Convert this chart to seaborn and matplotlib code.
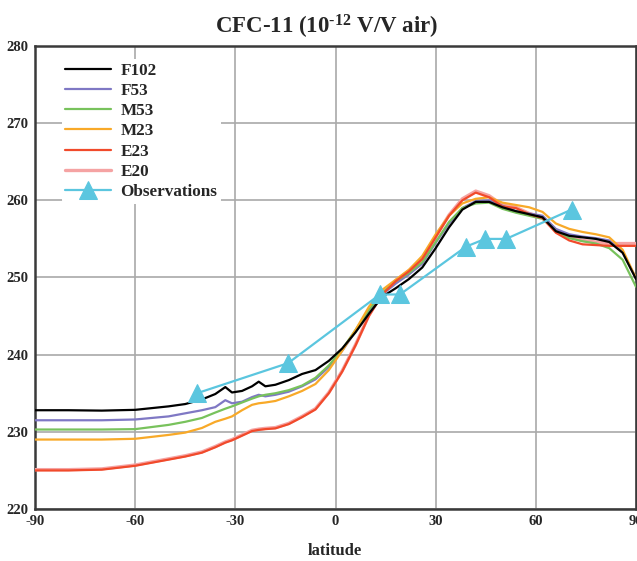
import matplotlib
matplotlib.use("Agg")
import matplotlib.pyplot as plt
import seaborn as sns
import numpy as np

# ---- data ----
lat = [-90, -80, -70, -60, -50, -45, -40, -36, -33, -31, -28, -25, -23, -21, -18,
       -14, -10, -6, -2, 2, 6, 10, 14, 18, 22, 26, 30, 34, 38, 42, 46, 50, 54,
       58, 62, 66, 70, 74, 78, 82, 86, 90]

f102 = [232.8, 232.8, 232.75, 232.85, 233.3, 233.6, 234.2, 234.9, 235.8, 235.1, 235.3,
        235.9, 236.5, 235.9, 236.1, 236.7, 237.5, 238.0, 239.2, 240.8, 242.9, 245.3,
        247.5, 248.6, 249.8, 251.3, 253.8, 256.5, 258.8, 259.8, 259.8, 259.1, 258.6,
        258.2, 257.8, 256.0, 255.4, 255.2, 255.0, 254.6, 253.2, 249.8]
f53 = [231.5, 231.5, 231.5, 231.6, 232.0, 232.4, 232.8, 233.2, 234.1, 233.7, 233.9,
       234.5, 234.8, 234.6, 234.8, 235.2, 235.9, 236.8, 238.4, 240.5, 243.0, 245.5,
       247.8, 249.2, 250.4, 251.8, 254.5, 257.0, 259.0, 259.9, 260.0, 259.3, 258.6,
       258.3, 258.0, 256.3, 255.6, 255.3, 255.1, 254.8, 253.3, 249.9]
m53 = [230.3, 230.3, 230.3, 230.35, 230.9, 231.3, 231.8, 232.5, 233.0, 233.3, 233.8,
       234.3, 234.6, 234.8, 235.0, 235.4, 236.0, 237.0, 238.6, 240.7, 243.2, 245.8,
       248.0, 249.5, 250.6, 252.0, 254.6, 257.2, 259.0, 259.6, 259.7, 258.9, 258.4,
       258.0, 257.6, 256.0, 255.1, 254.7, 254.4, 253.8, 252.3, 248.8]
m23 = [229.0, 229.0, 229.0, 229.1, 229.6, 229.9, 230.5, 231.3, 231.7, 232.0, 232.8,
       233.5, 233.7, 233.8, 234.0, 234.6, 235.3, 236.2, 238.0, 240.5, 243.2, 246.2,
       248.4, 249.7, 251.0, 252.8, 255.6, 258.0, 259.6, 260.2, 260.4, 259.7, 259.4,
       259.1, 258.5, 257.0, 256.3, 255.9, 255.6, 255.2, 253.6, 249.9]
e23 = [225.0, 225.0, 225.1, 225.6, 226.4, 226.8, 227.3, 228.0, 228.6, 228.9, 229.5,
       230.1, 230.25, 230.35, 230.45, 231.0, 231.9, 232.9, 235.0, 237.8, 241.2, 245.0,
       247.8, 249.5, 250.8, 252.4, 255.2, 258.0, 260.0, 261.0, 260.4, 259.2, 259.0,
       258.2, 257.7, 255.8, 254.8, 254.3, 254.2, 254.1, 254.1, 254.1]
e20 = [225.1, 225.1, 225.2, 225.7, 226.5, 226.9, 227.4, 228.1, 228.7, 229.0, 229.6,
       230.2, 230.35, 230.45, 230.55, 231.1, 232.0, 233.0, 235.1, 237.9, 241.3, 245.1,
       247.9, 249.6, 250.9, 252.5, 255.3, 258.1, 260.2, 261.2, 260.6, 259.4, 259.1,
       258.3, 257.8, 256.1, 255.3, 254.8, 254.6, 254.4, 254.4, 254.4]

obs_lat = [-41.5, -14.2, 13.3, 19.3, 39.1, 44.8, 51.1, 70.7]
obs_val = [235.0, 238.9, 247.8, 247.8, 254.0, 255.0, 255.0, 258.8]

x_ticks = [-90, -60, -30, 0, 30, 60, 90]
y_ticks = [220, 230, 240, 250, 260, 270, 280]

# ---- style ----
sns.set_style("white")
plt.rcParams['font.family'] = ['Liberation Serif', 'DejaVu Serif']
plt.rcParams['font.weight'] = 'bold'
plt.rcParams['mathtext.fontset'] = 'custom'
plt.rcParams['mathtext.rm'] = 'Liberation Serif:bold'
plt.rcParams['mathtext.bf'] = 'Liberation Serif:bold'
plt.rcParams['mathtext.it'] = 'Liberation Serif:bold'

fig = plt.figure(figsize=(6.37, 5.61), dpi=100)
ax = fig.add_axes([35/637, 1-509/561, (636-35)/637, (509-46)/561])

series = [
    ("F102", f102, "#000000", 1.6, 5),
    ("F53", f53, "#7f78c4", 1.6, 4),
    ("M53", m53, "#78c25c", 1.6, 4),
    ("M23", m23, "#f8a928", 1.6, 4),
    ("E23", e23, "#f14a2b", 1.6, 4),
    ("E20", e20, "#f5a3a3", 2.4, 3),
]
for name, vals, col, lw, z in series:
    sns.lineplot(x=lat, y=vals, color=col, lw=lw, label=name, ax=ax, zorder=z)

sns.lineplot(x=obs_lat, y=obs_val, color="#5bc6df", lw=1.6, marker="^",
             markersize=13, markeredgecolor="#5bc6df", label="Observations",
             ax=ax, zorder=6)

ax.set_xlim(-90, 90)
ax.set_ylim(220, 280)
ax.set_xticks(x_ticks)
ax.set_yticks(y_ticks)
ax.set_xticklabels([str(t) for t in x_ticks], fontsize=10.5, fontweight='bold')
ax.set_yticklabels([str(t) for t in y_ticks], fontsize=10.5, fontweight='bold')
ax.tick_params(axis='both', length=0)
ax.tick_params(axis='y', pad=5)
ax.tick_params(axis='x', pad=4)
ax.grid(True, color="#a9a9a9", lw=1.2)
ax.set_axisbelow(True)
for s in ax.spines.values():
    s.set_color("#3a3a3a")
    s.set_linewidth(1.8)

ax.set_xlabel("")
ax.set_ylabel("")
fig.text(335/637, 1-551/561, "latitude", ha='center', va='center',
         fontsize=12, fontweight='bold')

fig.text(327/637, 1-27/561, "CFC-11 (10$^{\\text{-12}}$ V/V air)", ha='center', va='center',
         fontsize=16.5, fontweight='bold')

leg = ax.legend(loc='upper left', bbox_to_anchor=(0.03, 0.99), frameon=True,
                facecolor='white', edgecolor='none', framealpha=1,
                prop={'family': 'Liberation Serif', 'weight': 'bold', 'size': 12.3},
                handlelength=2.7, handletextpad=0.55, labelspacing=0.25,
                borderpad=0.2)

fig.savefig("out.png", dpi=100)
